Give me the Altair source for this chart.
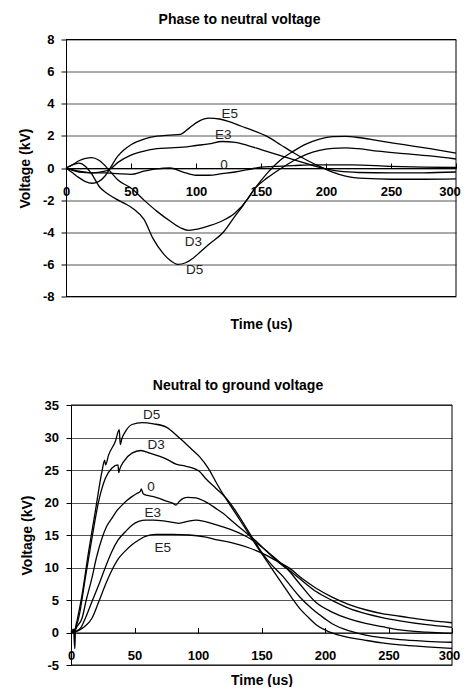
import altair as alt
import pandas as pd

FONT = "Liberation Sans"

# ---------------- Top panel: Phase to neutral voltage ----------------
TOP_E5_T = [0, 5, 10, 15, 20, 25, 30, 34, 40, 45, 50, 60, 70, 80, 88, 95, 102, 110, 118, 125, 135, 145, 155, 165, 175, 185, 195, 205, 215, 230, 250, 275, 300]
TOP_E5_V = [0, -0.3, -0.6, -0.85, -0.95, -0.85, -0.5, 0.0, 0.75, 1.15, 1.45, 1.8, 1.98, 2.05, 2.1, 2.5, 2.9, 3.1, 3.05, 2.9, 2.6, 2.3, 1.95, 1.45, 0.95, 0.5, 0.1, -0.25, -0.5, -0.65, -0.7, -0.7, -0.68]

TOP_E3_T = [0, 5, 10, 20, 30, 35, 40, 50, 60, 70, 80, 90, 100, 110, 120, 130, 140, 150, 160, 170, 180, 190, 200, 210, 225, 250, 275, 300]
TOP_E3_V = [0, -0.15, -0.25, -0.3, -0.2, 0.0, 0.35, 0.8, 1.05, 1.2, 1.25, 1.3, 1.4, 1.5, 1.65, 1.6, 1.4, 1.15, 0.9, 0.65, 0.4, 0.15, -0.05, -0.2, -0.28, -0.3, -0.3, -0.25]

TOP_Z_T = [0, 5, 10, 20, 30, 40, 50, 60, 70, 80, 90, 100, 110, 120, 130, 140, 150, 160, 175, 190, 200, 220, 250, 275, 300]
TOP_Z_V = [0, -0.1, -0.2, -0.3, -0.3, -0.35, -0.4, -0.2, -0.05, 0.0, -0.25, -0.45, -0.45, -0.35, -0.25, -0.1, 0.05, 0.1, 0.15, 0.2, 0.2, 0.2, 0.1, 0.05, 0.03]

TOP_D3_T = [0, 5, 10, 15, 20, 25, 30, 35, 40, 50, 60, 70, 80, 88, 94, 100, 110, 120, 130, 140, 145, 155, 165, 175, 185, 195, 205, 215, 225, 240, 260, 280, 300]
TOP_D3_V = [0, 0.2, 0.45, 0.6, 0.65, 0.5, 0.15, -0.3, -0.75, -1.25, -2.0, -2.7, -3.3, -3.72, -3.88, -3.82, -3.6, -3.3, -2.8, -1.9, -1.3, -0.6, -0.05, 0.45, 0.85, 1.1, 1.22, 1.25, 1.2, 1.05, 0.9, 0.75, 0.56]

TOP_D5_T = [0, 5, 10, 15, 20, 26, 32, 39, 45, 52, 60, 67, 75, 80, 86, 92, 98, 103, 110, 121, 130, 136, 145, 155, 165, 175, 185, 195, 205, 215, 225, 240, 260, 280, 300]
TOP_D5_V = [0, 0.2, 0.3, 0.1, -0.4, -1.2, -1.6, -1.95, -2.2, -2.55, -3.2, -4.4, -5.35, -5.75, -6.0, -5.9, -5.6, -5.25, -4.75, -4.0, -3.0, -2.35, -1.3, -0.3, 0.5, 1.05, 1.5, 1.8, 1.95, 1.97, 1.9, 1.7, 1.45, 1.2, 0.93]

TOP_LABELS = ["E5", "E3", "0", "D3", "D5"]
TOP_LABEL_T = [126, 121, 121.5, 98, 99]
TOP_LABEL_V = [3.36, 2.05, 0.2, -4.63, -6.33]

TOP_Y_TICKS = [-8, -6, -4, -2, 0, 2, 4, 6, 8]

# ---------------- Bottom panel: Neutral to ground voltage ----------------
BOT_D5_T = [0, 2, 3, 3.5, 5, 8.7, 13.9, 19.1, 24.4, 26.5, 27.2, 29.6, 34.9, 38, 38.8, 40, 42.8, 48, 56, 65, 75, 85, 95, 101, 108, 114, 120, 127, 134, 140.5, 151, 160, 167, 174, 180, 187, 193, 200, 206, 215, 232, 245, 259, 280, 300]
BOT_D5_V = [0, 0.5, -2.5, 0.5, 2.0, 5.8, 12.5, 18.6, 24.8, 26.5, 25.8, 27.3, 29.4, 31.2, 28.9, 29.8, 30.9, 32.0, 32.3, 32.1, 31.6, 30.0, 28.2, 27.1, 25.3, 23.2, 21.2, 19.1, 17.0, 15.0, 11.9, 9.3, 7.3, 5.3, 3.7, 2.3, 1.2, 0.4, -0.1, -0.6, -1.2, -1.6, -1.9, -2.2, -2.45]

BOT_D3_T = [0, 3, 6, 11.3, 16.5, 21.8, 27, 32.3, 37, 37.6, 38.5, 41.5, 48, 55, 62, 70, 76, 82.7, 90, 96, 101, 106, 114, 122, 130, 138, 145, 151, 158, 167, 174, 180, 190, 200, 206, 220, 232, 245, 259, 280, 300]
BOT_D3_V = [0, 0.5, 2.2, 8.4, 14.5, 20.2, 23.7, 25.3, 25.8, 24.6, 25.2, 26.3, 27.6, 28.0, 27.6, 27.1, 26.6, 25.9, 25.6, 25.3, 24.8, 23.7, 22.2, 20.7, 18.6, 16.1, 13.9, 12.1, 10.4, 8.6, 6.9, 5.5, 3.6, 2.1, 1.3, 0.2, -0.4, -0.8, -1.1, -1.35, -1.5]

BOT_Z_T = [0, 3, 5, 8.7, 12, 16.5, 20, 24.4, 28, 32.3, 36, 40.2, 44, 48, 52, 54.6, 55.3, 57, 60, 65, 70, 75, 80, 82.7, 85, 88, 92, 98.5, 105, 114, 120, 127, 135, 146, 155, 164, 170, 180, 193, 206, 219, 232, 245, 259, 280, 300]
BOT_Z_V = [0, 0.3, 1.0, 2.2, 5.0, 8.4, 11.5, 14.5, 16.3, 17.6, 18.7, 19.6, 20.3, 20.9, 21.4, 21.7, 22.1, 21.3, 21.1, 20.9, 20.6, 20.2, 19.9, 19.6, 20.1, 20.6, 20.8, 20.7, 20.2, 19.1, 18.3, 17.1, 15.8, 14.0, 12.3, 10.7, 9.8, 7.5, 4.6, 3.1, 2.1, 1.4, 0.9, 0.4, 0.05, -0.15]

BOT_E3_T = [0, 4, 8, 11.3, 16, 21.8, 27, 32.3, 37, 42.8, 48, 53.3, 59, 65, 75, 85, 92, 98.5, 105, 114, 125, 140.5, 155, 167, 180, 193, 206, 219, 232, 245, 259, 280, 300]
BOT_E3_V = [0, 0.2, 0.8, 2.2, 4.5, 7.3, 10.0, 12.5, 14.2, 15.5, 16.5, 17.1, 17.3, 17.3, 17.1, 16.8, 17.1, 17.3, 17.1, 16.6, 15.9, 14.5, 12.4, 10.4, 8.3, 6.3, 4.9, 3.7, 2.9, 2.3, 1.8, 1.2, 0.8]

BOT_E5_T = [0, 5, 10, 16.5, 22, 27, 32, 37.5, 43, 48, 54, 58.5, 67, 80, 93, 105, 114, 127, 140.5, 153.6, 162, 172, 182, 193, 206, 219, 232, 245, 259, 280, 300]
BOT_E5_V = [0, 0.2, 0.8, 2.2, 4.8, 7.3, 9.5, 11.4, 12.6, 13.5, 14.3, 14.8, 15.1, 15.1, 15.0, 14.7, 14.3, 13.8, 13.0, 11.9, 11.0, 9.9, 8.3, 6.8, 5.4, 4.3, 3.5, 2.9, 2.5, 1.9, 1.5]

BOT_LABELS = ["D5", "D3", "0", "E3", "E5"]
BOT_LABEL_T = [63.5, 67, 63, 64.3, 72.2]
BOT_LABEL_V = [33.4, 28.9, 22.4, 18.4, 13.0]

BOT_Y_TICKS = [-5, 0, 5, 10, 15, 20, 25, 30, 35]

X_TICKS = [0, 50, 100, 150, 200, 250, 300]
X_DOMAIN = [0, 300]


def long_df(series):
    rows = []
    for name, ts, vs in series:
        for t, v in zip(ts, vs):
            rows.append({"series": name, "t": t, "v": v})
    return pd.DataFrame(rows)


def panel(series, lab_names, lab_t, lab_v, yticks, title, ytitle, width, height,
          title_dx, title_offset, x_title_y, last_label_shift, x_range=None,
          y_offset=0, label_pad=7):
    ymin, ymax = yticks[0], yticks[-1]
    zero_px = height * (ymax - 0) / (ymax - ymin)

    xscale = alt.Scale(domain=X_DOMAIN, nice=False, zero=False,
                       **({"range": x_range} if x_range else {}))
    yscale = alt.Scale(domain=[ymin, ymax], nice=False, zero=False)

    xaxis = alt.Axis(orient="top", offset=-zero_px, values=X_TICKS, grid=False,
                     tickSize=5, tickColor="black", tickWidth=1,
                     domainColor="black", domainWidth=1,
                     labelFont=FONT, labelFontSize=13, labelFontWeight="bold",
                     labelColor="black", labelBaseline="top", labelPadding=-22,
                     labelFlush=False, labelOverlap=False, labelAngle=0,
                     labelExpr="'' + datum.value",
                     labelOffset={"condition": {"test": f"datum.value == {X_DOMAIN[1]}",
                                                "value": last_label_shift},
                                  "value": 0},
                     title="Time (us)", titleFont=FONT, titleFontSize=14,
                     titleFontWeight="bold", titleColor="black",
                     titleY=x_title_y, titleBaseline="middle", titleAngle=0)
    yaxis = alt.Axis(orient="left", values=yticks, offset=y_offset,
                     grid=True, gridColor="#555555", gridWidth=1,
                     tickSize=5, tickColor="black", domainColor="black",
                     labelFont=FONT, labelFontSize=13, labelFontWeight="bold",
                     labelColor="black", labelPadding=label_pad,
                     labelExpr="'' + datum.value",
                     title=ytitle, titleFont=FONT, titleFontSize=14,
                     titleFontWeight="bold", titleColor="black", titlePadding=10)

    X = alt.X("t:Q", scale=xscale, axis=xaxis)
    Y = alt.Y("v:Q", scale=yscale, axis=yaxis)

    df = long_df(series)
    lines = alt.Chart(df).mark_line(color="black", strokeWidth=1.3,
                                    interpolate="monotone").encode(
        x=X, y=Y, detail="series:N")

    lab_df = pd.DataFrame({"label": lab_names, "t": lab_t, "v": lab_v})
    labels = alt.Chart(lab_df).mark_text(font=FONT, fontSize=13.5, color="#222",
                                         align="center", baseline="middle").encode(
        x=X, y=Y, text="label:N")

    frame_df = pd.DataFrame({
        "t": [X_DOMAIN[0], X_DOMAIN[0], X_DOMAIN[1]],
        "t2": [X_DOMAIN[1], X_DOMAIN[1], X_DOMAIN[1]],
        "v": [ymax, ymin, ymin],
        "v2": [ymax, ymin, ymax],
    })
    frame = alt.Chart(frame_df).mark_rule(color="black", strokeWidth=1).encode(
        x=X, x2="t2:Q", y=Y, y2="v2:Q")

    return alt.layer(frame, lines, labels).properties(
        width=width, height=height,
        title=alt.TitleParams(title, font=FONT, fontSize=14, fontWeight="bold",
                              color="black", anchor="middle", frame="group",
                              dx=title_dx, offset=title_offset, baseline="alphabetic"))


top = panel(
    [("E5", TOP_E5_T, TOP_E5_V), ("E3", TOP_E3_T, TOP_E3_V), ("0", TOP_Z_T, TOP_Z_V),
     ("D3", TOP_D3_T, TOP_D3_V), ("D5", TOP_D5_T, TOP_D5_V)],
    TOP_LABELS, TOP_LABEL_T, TOP_LABEL_V, TOP_Y_TICKS,
    "Phase to neutral voltage", "Voltage  (kV)", 390, 257,
    title_dx=-21.5, title_offset=-4, x_title_y=156, last_label_shift=-6.5, label_pad=7)

bottom = panel(
    [("D5", BOT_D5_T, BOT_D5_V), ("D3", BOT_D3_T, BOT_D3_V), ("0", BOT_Z_T, BOT_Z_V),
     ("E3", BOT_E3_T, BOT_E3_V), ("E5", BOT_E5_T, BOT_E5_V)],
    BOT_LABELS, BOT_LABEL_T, BOT_LABEL_V, BOT_Y_TICKS,
    "Neutral to ground voltage", "Voltage (kV)", 386, 260,
    title_dx=-21, title_offset=-4.5, x_title_y=48, last_label_shift=-3,
    x_range=[5, 386], y_offset=-5, label_pad=7.5)

chart = alt.vconcat(top, bottom, spacing=46.5).properties(
    padding={"left": 10, "top": 4.5, "right": 0, "bottom": -1}
).configure_view(stroke=None)

chart.save("out.html", embed_options={"renderer": "svg", "actions": False})
